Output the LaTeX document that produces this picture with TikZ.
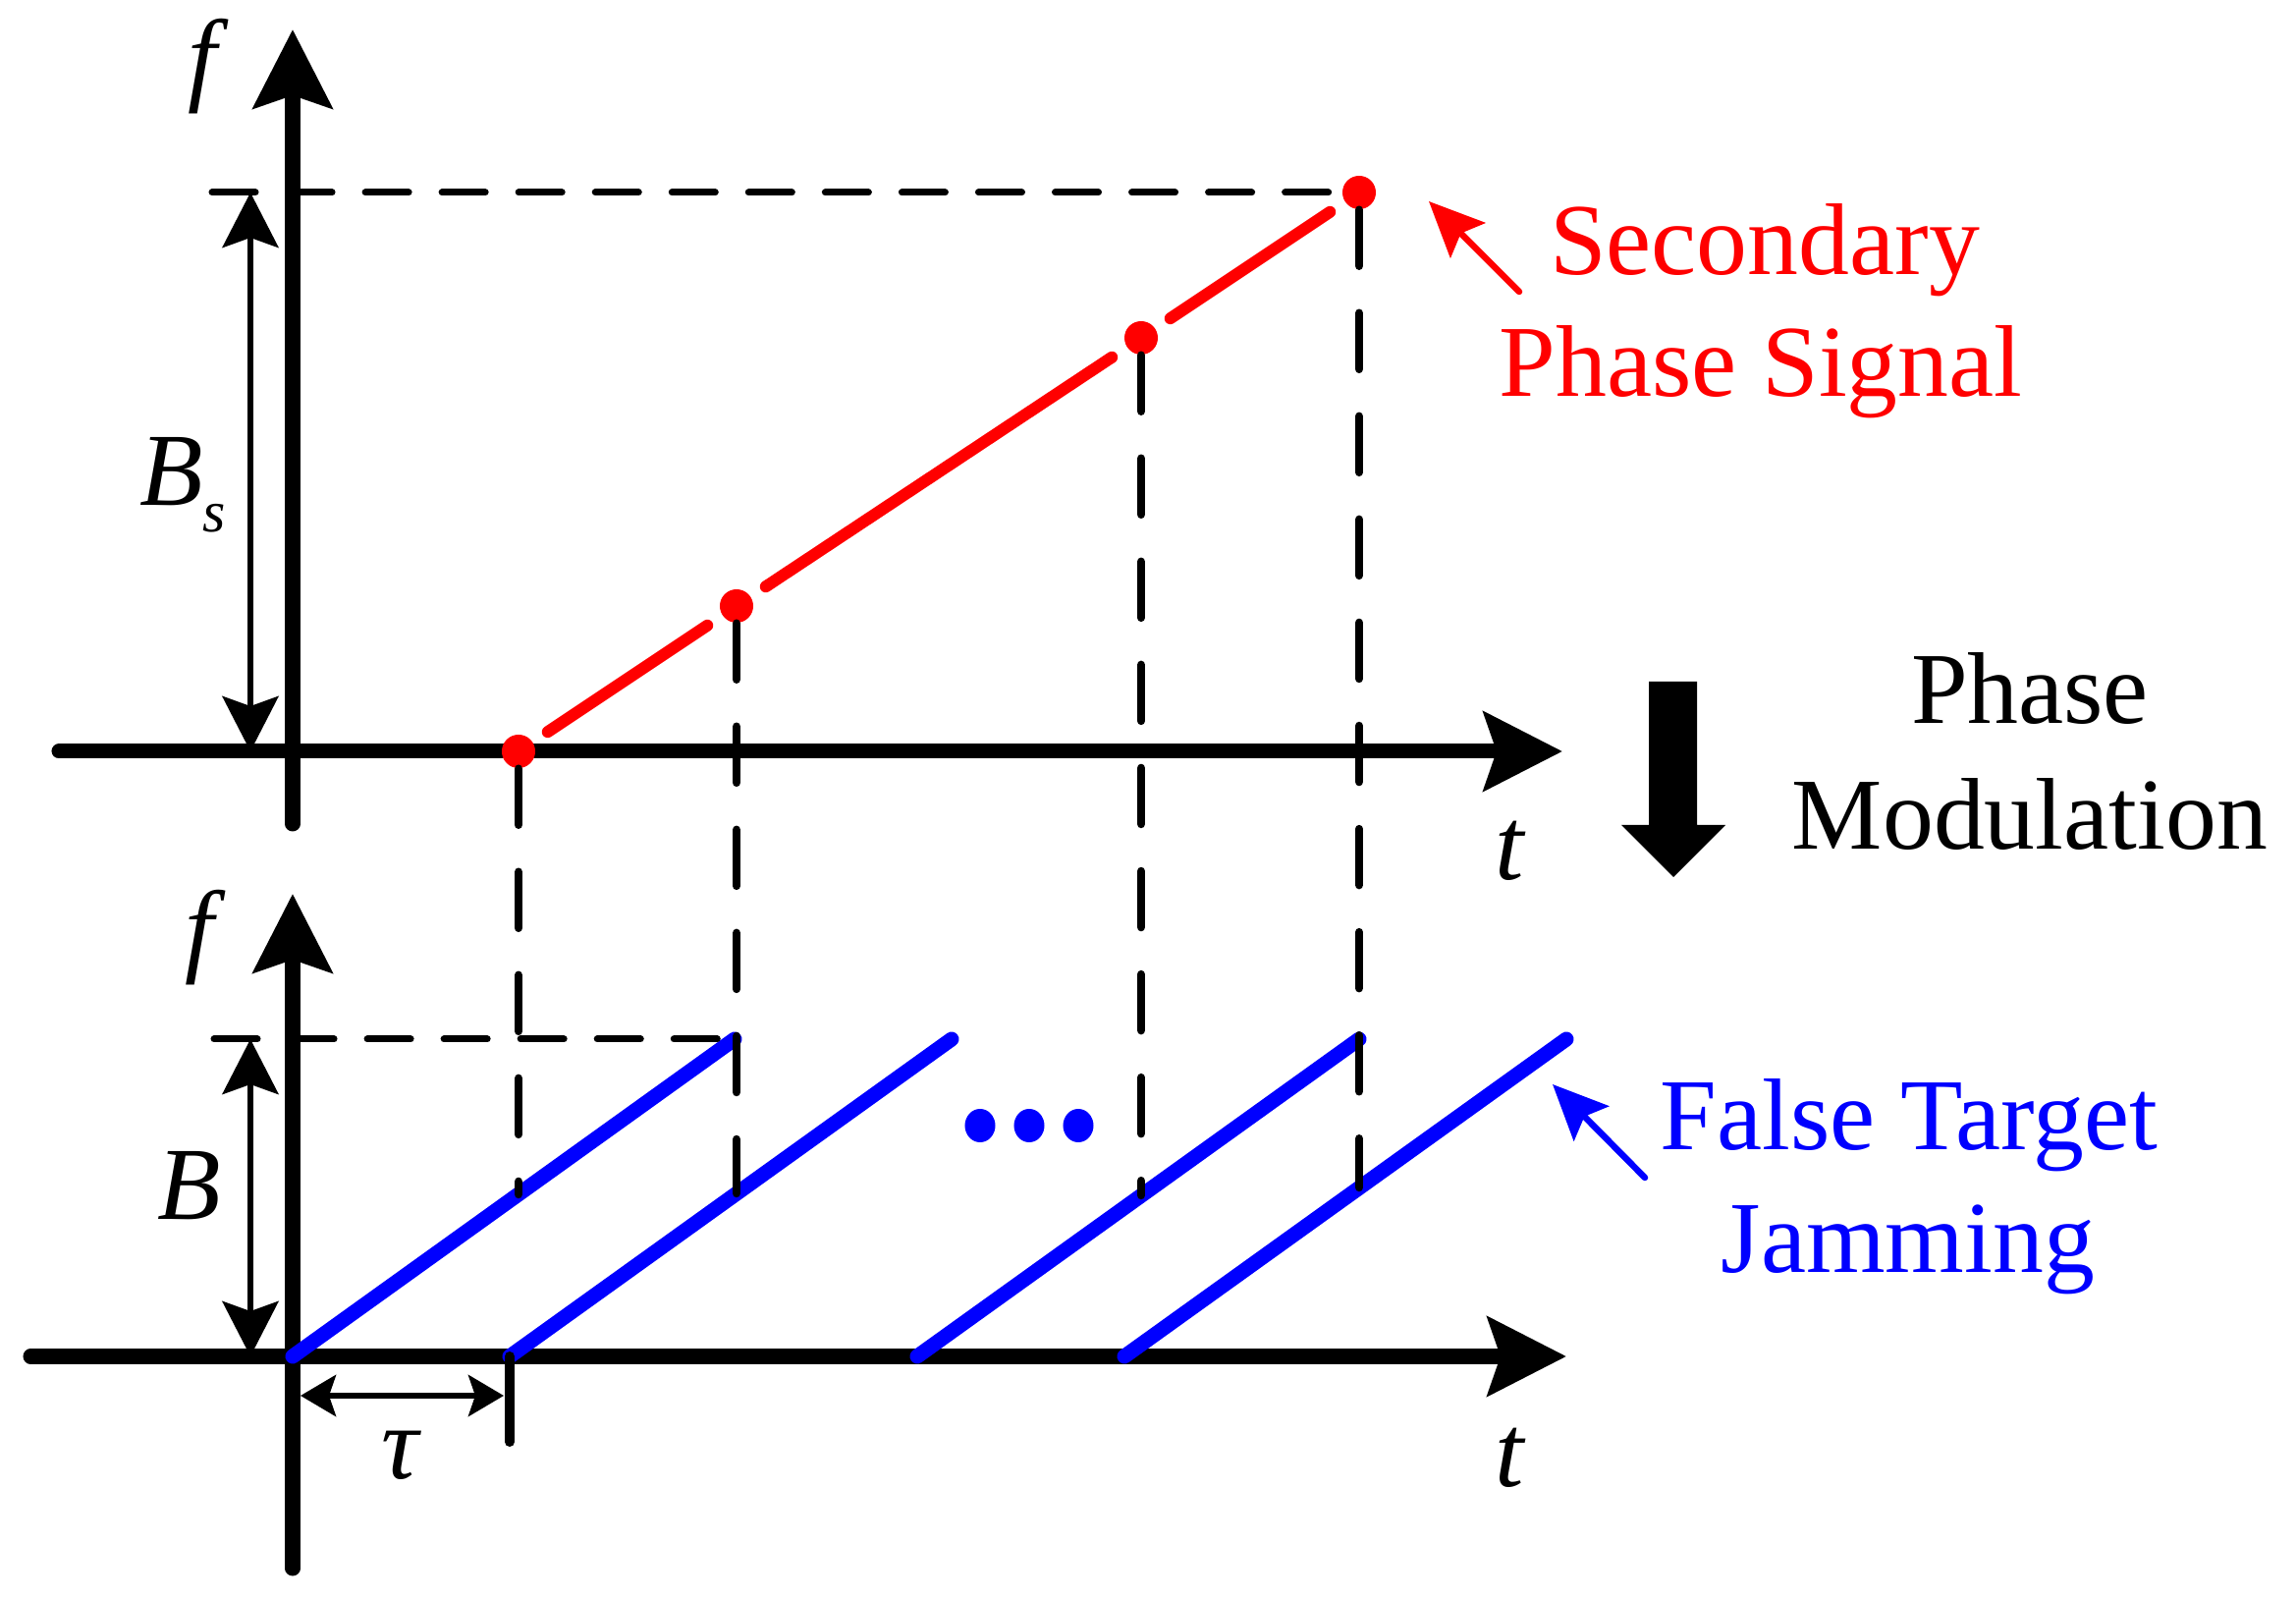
\documentclass[tikz,border=0pt]{standalone}
\usepackage{fontspec}
\setmainfont{Liberation Serif}
\usetikzlibrary{arrows.meta,shapes.geometric}
\begin{document}
\begin{tikzpicture}[x=0.01cm,y=-0.01cm,
  axis/.style={line width=0.15cm, line cap=round, -{Stealth[length=0.8cm,width=0.8cm,inset=0.13cm]}},
  hdash/.style={line width=0.07cm, line cap=round, dash pattern=on 0.44cm off 0.34cm},
  vdash/.style={line width=0.085cm, line cap=round, dash pattern=on 0.57cm off 0.48cm},
  dimarr/.style={line width=0.06cm, {Stealth[length=0.56cm,width=0.57cm,inset=0.1cm]}-{Stealth[length=0.56cm,width=0.57cm,inset=0.1cm]}},
  tauarr/.style={line width=0.06cm, {Stealth[length=0.36cm,width=0.42cm,inset=0.07cm]}-{Stealth[length=0.36cm,width=0.42cm,inset=0.07cm]}},
  callout/.style={line width=0.065cm, line cap=round, -{Stealth[length=0.56cm,width=0.5cm,inset=0.1cm]}},
  rdot/.style={circle, fill=red, inner sep=0pt, minimum size=0.34cm},
  bdot/.style={ellipse, fill=blue, inner sep=0pt, minimum width=0.31cm, minimum height=0.34cm},
  redseg/.style={red, line width=0.12cm, line cap=round, shorten <=0.18cm, shorten >=0.18cm},
  bline/.style={blue, line width=0.15cm, line cap=round},
  txt/.style={font=\fontsize{29.5}{35}\selectfont, inner sep=0pt},
  lbl/.style={font=\fontsize{30}{36}\selectfont\itshape, inner sep=0pt}
]
\useasboundingbox (0,0) rectangle (2338,1628);
% ---------- top plot ----------
\coordinate (tyb) at (298,839); \coordinate (tyt) at (298,30);
\coordinate (txl) at (60,765);  \coordinate (txr) at (1591,765);
\draw[axis] (tyb) -- (tyt);
\draw[axis] (txl) -- (txr);
\node[lbl, anchor=base] (ftop) at (206,94) {f};
\node[lbl, anchor=base] (ttop) at (1537,896) {t};

\node[rdot] (d1) at (528,765) {};
\node[rdot] (d2) at (750,617) {};
\node[rdot] (d3) at (1162,344) {};
\node[rdot] (d4) at (1384,196) {};
\draw[redseg] (d1) -- (d2);
\draw[redseg] (d2) -- (d3);
\draw[redseg] (d3) -- (d4);

\coordinate (bsT) at (216,196);
\draw[hdash] (bsT) -- (d4);
\coordinate (bsa) at (255,196); \coordinate (bsb) at (255,765);
\draw[dimarr] (bsa) -- (bsb);
\node[lbl, anchor=base] (bs) at (186,515) {B\raisebox{-7.5pt}{\fontsize{17}{17}\selectfont s}};

% ---------- bottom plot ----------
\coordinate (byb) at (298,1597); \coordinate (byt) at (298,910);
\coordinate (bxl) at (31,1381);  \coordinate (bxr) at (1595,1381);
\draw[axis] (byb) -- (byt);
\draw[axis] (bxl) -- (bxr);
\node[lbl, anchor=base] (fbot) at (203,981) {f};
\node[lbl, anchor=base] (tbot) at (1537,1514) {t};

\coordinate (j1s) at (298,1381);  \coordinate (j1e) at (748,1058);
\coordinate (j2s) at (519,1381);  \coordinate (j2e) at (969,1058);
\coordinate (j3s) at (934,1381);  \coordinate (j3e) at (1384,1058);
\coordinate (j4s) at (1145,1381); \coordinate (j4e) at (1595,1058);
\draw[bline] (j1s) -- (j1e);
\draw[bline] (j2s) -- (j2e);
\draw[bline] (j3s) -- (j3e);
\draw[bline] (j4s) -- (j4e);

\coordinate (bT) at (218,1058);
\draw[hdash] (bT) -- (j1e);
\coordinate (ba) at (255,1058); \coordinate (bb) at (255,1381);
\draw[dimarr] (ba) -- (bb);
\node[lbl, anchor=base] (blab) at (193,1242) {B};

\coordinate (tk1) at (519,1381); \coordinate (tk2) at (519,1468);
\draw[line width=0.1cm, line cap=round] (tk1) -- (tk2);
\coordinate (ta) at (306,1421); \coordinate (tb) at (513,1421);
\draw[tauarr] (ta) -- (tb);
\node[lbl, anchor=base] (tau) at (407,1505) {τ};

\node[bdot] (dot1) at (998,1146) {};
\node[bdot] (dot2) at (1048,1146) {};
\node[bdot] (dot3) at (1098,1146) {};

% ---------- vertical dashed projections ----------
\coordinate (e1) at (528,1216);
\coordinate (e2) at (750,1215);
\coordinate (e3) at (1162,1217);
\coordinate (e4) at (1384,1209);
\draw[vdash] (d1) -- (e1);
\draw[vdash] (d2) -- (e2);
\draw[vdash] (d3) -- (e3);
\draw[vdash] (d4) -- (e4);

% ---------- annotations ----------
\node[txt, red, anchor=base] (sec1) at (1797,280) {Secondary};
\node[txt, red, anchor=base] (sec2) at (1793,404) {Phase Signal};
\coordinate (rc1) at (1547,297); \coordinate (rc2) at (1455,205);
\draw[callout, red] (rc1) -- (rc2);

\node[txt, anchor=base] (pm1) at (2067,737) {Phase};
\node[txt, anchor=base] (pm2) at (2067,865) {Modulation};
\fill (1679,694) -- (1728,694) -- (1728,840) -- (1757,840) -- (1704,893) -- (1651,840) -- (1679,840) -- cycle;

\node[txt, blue, anchor=base] (ft1) at (1944,1171) {False Target};
\node[txt, blue, anchor=base] (ft2) at (1943,1296) {Jamming};
\coordinate (bc1) at (1675,1199); \coordinate (bc2) at (1581,1104);
\draw[callout, blue] (bc1) -- (bc2);
\end{tikzpicture}
\end{document}
